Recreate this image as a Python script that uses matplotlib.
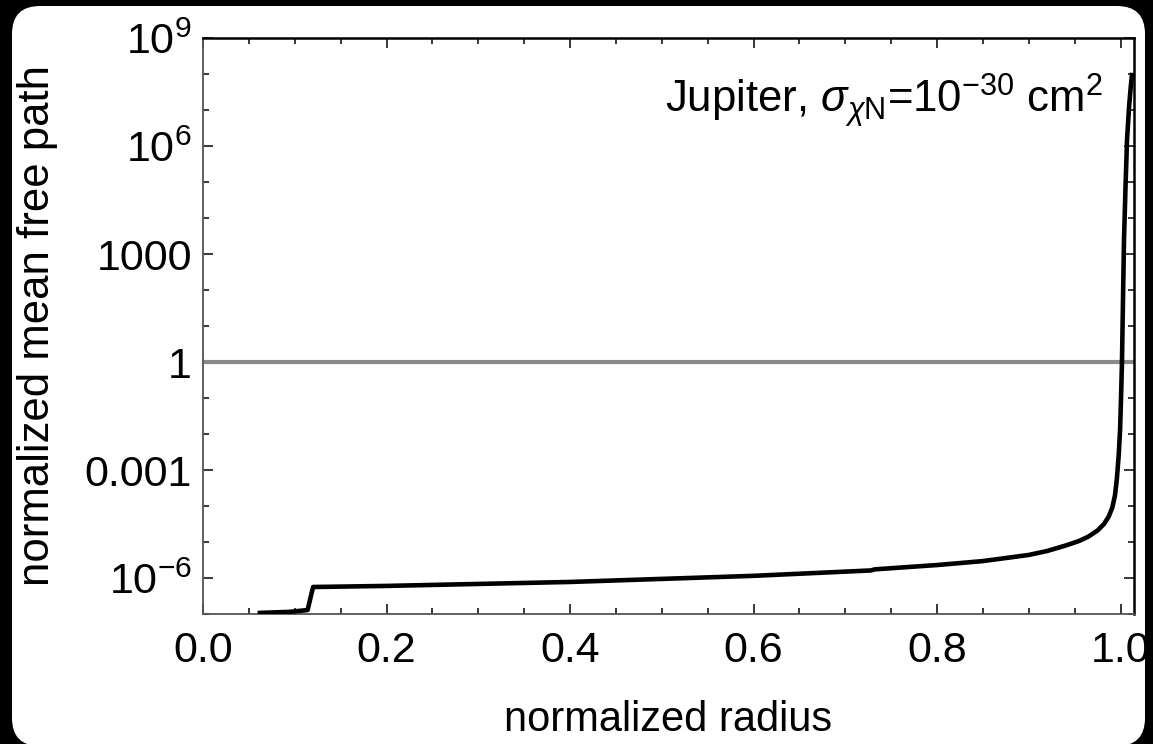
import numpy as np
import matplotlib
matplotlib.use("Agg")
import matplotlib.pyplot as plt
from matplotlib.patches import FancyBboxPatch
from matplotlib.ticker import FixedLocator, FixedFormatter, MultipleLocator

plt.rcParams['font.family'] = ['Liberation Sans', 'DejaVu Sans']
plt.rcParams['mathtext.fontset'] = 'custom'
plt.rcParams['mathtext.rm'] = 'Liberation Sans'
plt.rcParams['mathtext.it'] = 'Liberation Sans:italic'
plt.rcParams['mathtext.bf'] = 'Liberation Sans:bold'

# normalized radius vs normalized mean free path
radius = [0.062, 0.095, 0.114, 0.1166, 0.120, 0.20, 0.40, 0.60, 0.728, 0.732,
          0.80, 0.85, 0.90, 0.92, 0.94, 0.955, 0.965, 0.975, 0.982, 0.987,
          0.991, 0.994, 0.996, 0.998, 0.9995, 1.0005, 1.0016, 1.0027,
          1.0038, 1.0055, 1.0071, 1.0093, 1.0110, 1.0125]
log_mfp = [-6.97, -6.94, -6.89, -6.61, -6.25, -6.22, -6.11, -5.94, -5.79,
           -5.76, -5.64, -5.53, -5.36, -5.25, -5.10, -4.97, -4.85, -4.68,
           -4.50, -4.30, -4.05, -3.70, -3.25, -2.60, -1.90, -1.06, 0.0,
           1.72, 3.39, 4.90, 6.17, 7.08, 7.60, 7.97]
mfp = 10.0 ** np.array(log_mfp)

ytick_vals = [1e-6, 1e-3, 1, 1e3, 1e6, 1e9]
ytick_labels = [r'$10^{-6}$', '0.001', '1', '1000', r'$10^{6}$', r'$10^{9}$']
xtick_vals = [0.0, 0.2, 0.4, 0.6, 0.8, 1.0]
xtick_labels = ['0.0', '0.2', '0.4', '0.6', '0.8', '1.0']

W, H = 1153, 744
fig = plt.figure(figsize=(W / 100, H / 100), dpi=100, facecolor='black')

# white rounded card behind the plot
card = FancyBboxPatch((12, -2), 1133, 740, boxstyle="round,pad=0,rounding_size=28",
                      transform=None, facecolor='white', edgecolor='none', zorder=0)
fig.add_artist(card)

ax = fig.add_axes([203 / W, 1 - 614 / H, (1134 - 203) / W, (614 - 38) / H])
ax.set_facecolor('white')

ax.axhline(1, color='#8a8a8a', lw=3.0, zorder=2)
ax.plot(radius, mfp, color='black', lw=3.3, zorder=3, solid_joinstyle='round')

ax.set_yscale('log')
ax.set_xlim(0, 1.0147)
ax.set_ylim(1e-7, 1e9)

ax.xaxis.set_major_locator(FixedLocator(xtick_vals))
ax.xaxis.set_major_formatter(FixedFormatter(xtick_labels))
ax.xaxis.set_minor_locator(MultipleLocator(0.05))
ax.yaxis.set_major_locator(FixedLocator(ytick_vals))
ax.yaxis.set_major_formatter(FixedFormatter(ytick_labels))
ax.yaxis.set_minor_locator(FixedLocator([10.0 ** k for k in range(-7, 10)]))
ax.yaxis.set_minor_formatter(FixedFormatter([]))

ax.tick_params(which='both', direction='in', top=True, right=True,
               labelsize=31, width=1.1, color='black')
ax.tick_params(which='major', length=7)
ax.tick_params(which='minor', length=4.5)
ax.tick_params(axis='x', which='major', pad=12)
ax.tick_params(axis='y', which='major', pad=8)

for side in ['left', 'bottom']:
    ax.spines[side].set_color('#555555')
    ax.spines[side].set_linewidth(1.3)
for side in ['top', 'right']:
    ax.spines[side].set_color('black')
    ax.spines[side].set_linewidth(1.8)

ax.set_xlabel('normalized radius', fontsize=30, labelpad=21)
ax.set_ylabel('normalized mean free path', fontsize=31.5)
ax.yaxis.set_label_coords(-0.156, 0.5)

ax.text(0.967, 0.871, r'Jupiter, $\sigma_{\chi\mathrm{N}}$=10$^{-30}$ cm$^{2}$',
        transform=ax.transAxes, ha='right', va='baseline', fontsize=31.5)

fig.savefig('out.png', dpi=100, facecolor='black')
